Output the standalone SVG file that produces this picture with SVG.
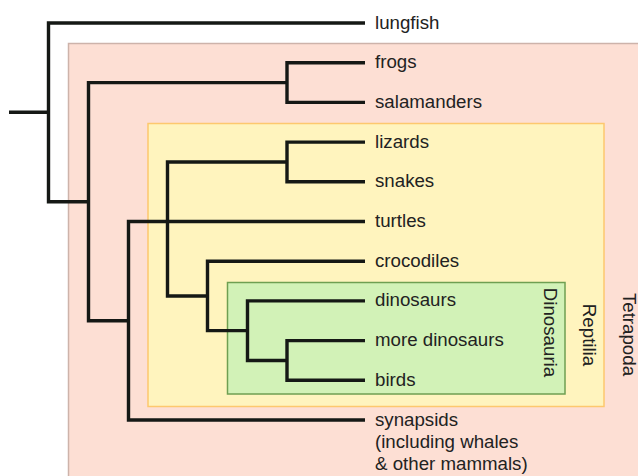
<svg xmlns="http://www.w3.org/2000/svg" width="638" height="476" viewBox="0 0 638 476">
<style>
.lbl{font-family:"Liberation Sans",Arial,Helvetica,sans-serif;font-size:18.7px;fill:#222}
.br{fill:none;stroke:#151815;stroke-width:3.4;stroke-linejoin:miter;stroke-linecap:butt}
</style>
<rect width="638" height="476" fill="#ffffff"/>
<g id="tetrapoda">
<rect x="68.5" y="43.5" width="580" height="450" fill="#fddfd4" stroke="#cdb3aa" stroke-width="1.5"/>
<text class="lbl" transform="translate(622.5,334.5) rotate(90)" text-anchor="middle">Tetrapoda</text>
</g>
<g id="reptilia">
<rect x="148" y="123.5" width="456" height="283" fill="#fff4be" stroke="#fdc86e" stroke-width="1.5"/>
<text class="lbl" transform="translate(582.5,335) rotate(90)" text-anchor="middle">Reptilia</text>
</g>
<g id="dinosauria">
<rect x="227.5" y="282.5" width="337.5" height="111.5" fill="#d2f2b7" stroke="#6f9f52" stroke-width="1.5"/>
<text class="lbl" transform="translate(544,332.5) rotate(90)" text-anchor="middle">Dinosauria</text>
</g>
<g id="connectors">
<path class="br" d="M9,112.3 H48.5"/>
<path class="br" d="M365,23 H48.5 V201.7 H88.5"/>
<path class="br" d="M287,82.6 H88.5 V320.8 H128.5"/>
<path class="br" d="M365,62.7 H287 V102.4 H365"/>
<path class="br" d="M365,221.5 H128.5 V420 H365"/>
<path class="br" d="M365,142.1 H287 V181.8 H365"/>
<path class="br" d="M287,162 H167.5 V296 H207.5"/>
<path class="br" d="M365,261.2 H207.5 V330.6 H247.5"/>
<path class="br" d="M365,300.9 H247.5 V360.5 H287"/>
<path class="br" d="M365,340.6 H287 V380.3 H365"/>
</g>
<g id="lungfish"><text class="lbl" x="375" y="28.5">lungfish</text></g>
<g id="frogs"><text class="lbl" x="375" y="68.2">frogs</text></g>
<g id="salamanders"><text class="lbl" x="375" y="107.9">salamanders</text></g>
<g id="lizards"><text class="lbl" x="375" y="147.6">lizards</text></g>
<g id="snakes"><text class="lbl" x="375" y="187.3">snakes</text></g>
<g id="turtles"><text class="lbl" x="375" y="227">turtles</text></g>
<g id="crocodiles"><text class="lbl" x="375" y="266.7">crocodiles</text></g>
<g id="dinosaurs"><text class="lbl" x="375" y="306.4">dinosaurs</text></g>
<g id="more-dinosaurs"><text class="lbl" x="375" y="346.1">more dinosaurs</text></g>
<g id="birds"><text class="lbl" x="375" y="385.8">birds</text></g>
<g id="synapsids"><text class="lbl" x="375" y="425.5">synapsids<tspan x="375" dy="22.3">(including whales</tspan><tspan x="375" dy="22.3">&amp; other mammals)</tspan></text></g>
</svg>
